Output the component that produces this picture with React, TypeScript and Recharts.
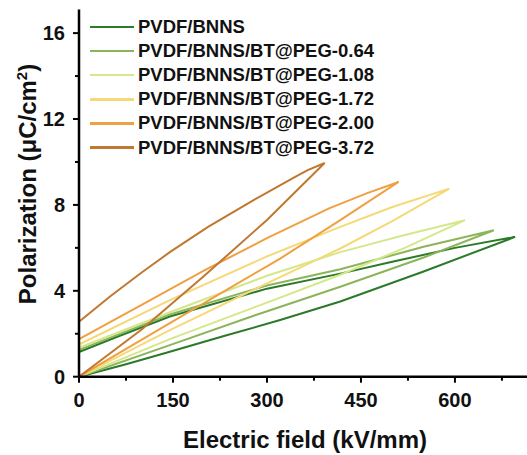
import { LineChart, Line, XAxis, YAxis } from 'recharts';

// E (kV/mm), P (uC/cm2): charging branch from origin, then discharge back to E = 0
const bnns = [
  [0, 0], [75, 0.58], [145, 1.16], [230, 1.88], [321, 2.64], [417, 3.5], [550, 4.9], [696, 6.51],
  [600, 6.0], [500, 5.35], [417, 4.8], [300, 4.1], [145, 2.8], [60, 1.85], [0, 1.15],
];
const peg064 = [
  [0, 0], [145, 1.47], [280, 2.85], [417, 4.19], [550, 5.55], [662, 6.82],
  [550, 6.05], [417, 5.0], [300, 4.25], [145, 2.9], [0, 1.25],
];
const peg108 = [
  [0, 0], [145, 1.75], [300, 3.45], [417, 4.75], [520, 6.0], [616, 7.29],
  [520, 6.6], [417, 5.8], [300, 4.7], [145, 3.0], [0, 1.35],
];
const peg172 = [
  [0, 0], [145, 2.17], [300, 4.35], [417, 5.97], [500, 7.25], [591, 8.76],
  [500, 7.9], [417, 6.98], [300, 5.6], [145, 3.57], [0, 1.5],
];
const peg200 = [
  [0, 0], [145, 2.5], [321, 5.5], [417, 7.29], [510, 9.07],
  [460, 8.55], [400, 7.85], [300, 6.45], [200, 4.95], [100, 3.35], [0, 1.75],
];
const peg372 = [
  [0, 0], [100, 2.2], [200, 4.7], [300, 7.3], [392, 9.95],
  [365, 9.62], [345, 9.3], [280, 8.25], [206, 6.98], [145, 5.8], [100, 4.85], [50, 3.75], [0, 2.56],
];

const names = [
  'PVDF/BNNS',
  'PVDF/BNNS/BT@PEG-0.64',
  'PVDF/BNNS/BT@PEG-1.08',
  'PVDF/BNNS/BT@PEG-1.72',
  'PVDF/BNNS/BT@PEG-2.00',
  'PVDF/BNNS/BT@PEG-3.72',
];
const colors = ['#2a7a2a', '#8cb45a', '#d4e88a', '#f5d978', '#f0a040', '#c07830'];
const loops = [bnns, peg064, peg108, peg172, peg200, peg372];

const xTicks = [0, 75, 150, 225, 300, 375, 450, 525, 600, 675];
const yTicks = [0, 2, 4, 6, 8, 10, 12, 14, 16];

const font = '"Liberation Sans", Arial, sans-serif';

const toRows = (pts: number[][]) => pts.map(([e, p]) => ({ e, p }));

const XTick = ({ x, y, payload }: any) => {
  const major = payload.value % 150 === 0;
  return (
    <g>
      <line x1={x} x2={x} y1={y} y2={y + (major ? 6 : 4)} stroke="#000" strokeWidth={2} />
      {major && (
        <text x={x} y={y + 30.5} textAnchor="middle" fontSize={20} fontWeight="bold" fontFamily={font} fill="#111">
          {payload.value}
        </text>
      )}
    </g>
  );
};

const YTick = ({ x, y, payload }: any) => {
  const major = payload.value % 4 === 0;
  return (
    <g>
      <line x1={x} x2={x - (major ? 6 : 4)} y1={y} y2={y} stroke="#000" strokeWidth={2} />
      {major && (
        <text x={x - 14} y={y + 7} textAnchor="end" fontSize={20} fontWeight="bold" fontFamily={font} fill="#111">
          {payload.value}
        </text>
      )}
    </g>
  );
};

const LegendBox = () => (
  <div
    style={{
      position: 'absolute',
      left: 90,
      top: 15,
      fontFamily: font,
      fontWeight: 'bold',
      fontSize: 18.5,
      color: '#111',
      pointerEvents: 'none',
    }}
  >
    {names.map((n, i) => (
      <div key={n} style={{ display: 'flex', alignItems: 'center', height: 24.1 }}>
        <div style={{ width: 44, height: 2.5, background: colors[i], marginRight: 4 }} />
        <span style={{ whiteSpace: 'nowrap' }}>{n}</span>
      </div>
    ))}
  </div>
);

export default function App() {
  return (
    <div style={{ position: 'absolute', left: 0, top: 0, width: 527, height: 455, background: '#fff' }}>
      <LineChart width={527} height={455} margin={{ top: 9.5, right: 0, left: 0, bottom: 0 }}>
        <XAxis
          xAxisId="top"
          orientation="top"
          type="number"
          dataKey="e"
          domain={[0, 715]}
          height={0}
          tick={false}
          tickLine={false}
          axisLine={{ stroke: '#000', strokeWidth: 2.5 }}
        />
        <XAxis
          type="number"
          dataKey="e"
          domain={[0, 715]}
          ticks={xTicks}
          interval={0}
          height={78.3}
          tickSize={0}
          tickMargin={0}
          tick={<XTick />}
          axisLine={{ stroke: '#000', strokeWidth: 2.5 }}
        />
        <YAxis
          type="number"
          domain={[0, 17.1]}
          ticks={yTicks}
          interval={0}
          width={79}
          tickSize={0}
          tickMargin={0}
          tick={<YTick />}
          axisLine={{ stroke: '#000', strokeWidth: 2.5 }}
        />
        {loops.map((pts, i) => (
          <Line
            key={names[i]}
            name={names[i]}
            data={toRows(pts)}
            dataKey="p"
            type="linear"
            stroke={colors[i]}
            strokeWidth={2}
            dot={false}
            activeDot={false}
            isAnimationActive={false}
          />
        ))}
      </LineChart>
      <LegendBox />
      <svg width={527} height={455} style={{ position: 'absolute', left: 0, top: 0, pointerEvents: 'none' }}>
        <text x={305} y={448} textAnchor="middle" fontSize={24} fontWeight="bold" fontFamily={font} fill="#111">
          Electric field (kV/mm)
        </text>
        <text
          x={36}
          y={184}
          transform="rotate(-90 36 184)"
          textAnchor="middle"
          fontSize={24}
          fontWeight="bold"
          fontFamily={font}
          fill="#111"
        >
          Polarization (μC/cm<tspan dy={-9} fontSize={15}>2</tspan><tspan dy={9}>)</tspan>
        </text>
      </svg>
    </div>
  );
}
